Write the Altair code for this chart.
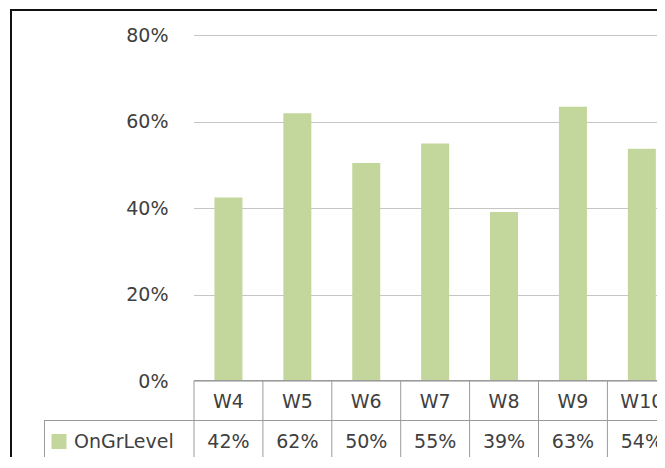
import altair as alt
import pandas as pd

weeks = ["W4", "W5", "W6", "W7", "W8", "W9", "W10"]
values = [0.424, 0.619, 0.504, 0.549, 0.391, 0.634, 0.537]
series_name = ["OnGrLevel"]
y_ticks = [0, 0.2, 0.4, 0.6, 0.8]

df = pd.DataFrame({"week": weeks, "value": values})
one = pd.DataFrame({"series": series_name})

FONT = "DejaVu Sans"
FS = 19
TXT = "#404040"
LINE = "#9a9a9a"
GREEN = "#C3D69B"

PAD_L, PAD_T = 186, 27
TOTAL_W, TOTAL_H = 649, 449
H = 346
W = TOTAL_W - PAD_L
RANGE_END = 482.3

xs = alt.Scale(domain=weeks, range=[0, RANGE_END], paddingInner=0, paddingOuter=0)

bars = alt.Chart(df).mark_bar(size=28, color=GREEN).encode(
    x=alt.X("week:N", scale=xs, axis=None, sort=weeks),
    y=alt.Y(
        "value:Q",
        scale=alt.Scale(domain=[0, 0.8], nice=False),
        axis=alt.Axis(
            values=y_ticks, format=".0%", title=None, domain=False, ticks=False,
            tickSize=0, labelPadding=26, labelFont=FONT, labelFontSize=FS,
            labelColor=TXT, grid=True, gridColor="#8a8a8a", gridDash=[1, 1],
            gridWidth=1,
        ),
    ),
)

vlines = alt.Chart(df).mark_rule(color=LINE, strokeWidth=1).encode(
    x=alt.X("week:N", scale=xs, sort=weeks, bandPosition=0),
    y=alt.value(345.5), y2=alt.value(426.5),
)

header = alt.Chart(df).mark_text(font=FONT, fontSize=FS, color=TXT, baseline="middle").encode(
    x=alt.X("week:N", scale=xs, sort=weeks),
    y=alt.value(366.7),
    text="week:N",
)

vals = alt.Chart(df).mark_text(font=FONT, fontSize=FS, color=TXT, baseline="middle").encode(
    x=alt.X("week:N", scale=xs, sort=weeks),
    y=alt.value(406.7),
    text=alt.Text("value:Q", format=".0%"),
)

base1 = alt.Chart(one)
h_top = base1.mark_rule(color=LINE, strokeWidth=1).encode(
    x=alt.value(0), x2=alt.value(RANGE_END), y=alt.value(345.5))
h_mid = base1.mark_rule(color=LINE, strokeWidth=1).encode(
    x=alt.value(-150), x2=alt.value(RANGE_END), y=alt.value(385.5))
h_bot = base1.mark_rule(color=LINE, strokeWidth=1).encode(
    x=alt.value(-150), x2=alt.value(RANGE_END), y=alt.value(426.5))
v_left = base1.mark_rule(color=LINE, strokeWidth=1).encode(
    x=alt.value(-149.5), y=alt.value(385.5), y2=alt.value(426.5))

swatch = base1.mark_square(size=225, color=GREEN, opacity=1, filled=True).encode(
    x=alt.value(-135), y=alt.value(406.5))
legend_txt = base1.mark_text(font=FONT, fontSize=FS, color=TXT, align="left", baseline="middle").encode(
    x=alt.value(-120), y=alt.value(406.7), text="series:N")

border_left = base1.mark_rule(color="#111111", strokeWidth=2).encode(
    x=alt.value(-183), y=alt.value(-26), y2=alt.value(440))
border_top = base1.mark_rule(color="#111111", strokeWidth=2).encode(
    x=alt.value(-184), x2=alt.value(RANGE_END), y=alt.value(-25))

chart = alt.layer(
    bars, vlines, h_top, h_mid, h_bot, v_left, header, vals, swatch, legend_txt,
    border_left, border_top,
).properties(
    width=W, height=H,
    autosize="none",
    padding={"left": PAD_L, "top": PAD_T, "right": 0, "bottom": TOTAL_H - PAD_T - H},
    background="white",
).configure_view(stroke=None)

chart.save("out.html", embed_options={"renderer": "svg", "actions": False})
